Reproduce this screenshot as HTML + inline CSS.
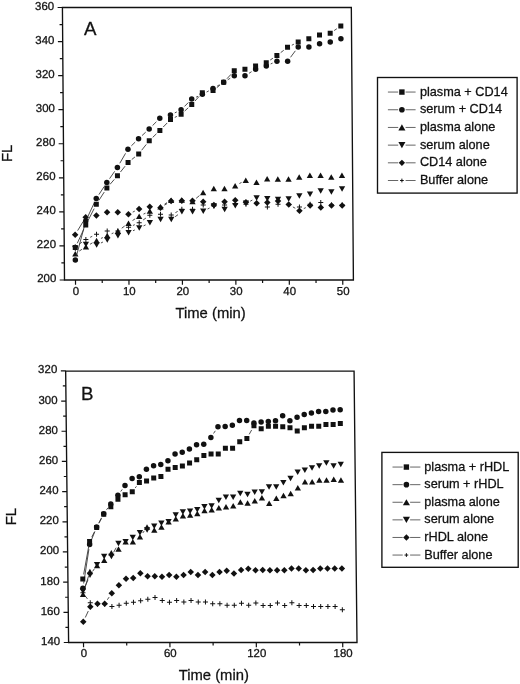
<!DOCTYPE html>
<html><head><meta charset="utf-8"><title>FL vs Time</title>
<style>
html,body{margin:0;padding:0;background:#fff;}
body{width:520px;height:684px;overflow:hidden;}
svg{display:block;font-family:"Liberation Sans",sans-serif;filter:blur(0.3px);}
text{stroke:#111;stroke-width:0.28px;}
</style></head>
<body>
<svg width="520" height="684" viewBox="0 0 520 684">
<rect width="520" height="684" fill="#fff"/>
<g transform="translate(0 280) skewX(0.4354) translate(0 -280)">
<path d="M64.5 7.5H353.4V280H64.5Z" fill="none" stroke="#111" stroke-width="1.35"/>
<path d="M59.7 279.98H64.5M59.7 245.92H64.5M59.7 211.86H64.5M59.7 177.8H64.5M59.7 143.74H64.5M59.7 109.68H64.5M59.7 75.62H64.5M59.7 41.56H64.5M59.7 7.5H64.5M61.5 262.95H64.5M61.5 228.89H64.5M61.5 194.83H64.5M61.5 160.77H64.5M61.5 126.71H64.5M61.5 92.65H64.5M61.5 58.59H64.5M61.5 24.53H64.5M75.5 280V284.7M128.95 280V284.7M182.4 280V284.7M235.85 280V284.7M289.3 280V284.7M342.75 280V284.7M102.22 280V283M155.68 280V283M209.12 280V283M262.57 280V283M316.02 280V283" stroke="#111" stroke-width="1.2" fill="none"/>
<g font-size="11.5" fill="#111" text-anchor="end">
<text x="56.3" y="282.48">200</text>
<text x="56.3" y="248.42">220</text>
<text x="56.3" y="214.36">240</text>
<text x="56.3" y="180.3">260</text>
<text x="56.3" y="146.24">280</text>
<text x="56.3" y="112.18">300</text>
<text x="56.3" y="78.12">320</text>
<text x="56.3" y="44.06">340</text>
<text x="56.3" y="10">360</text>
</g>
<g font-size="11.5" fill="#111" text-anchor="middle">
<text x="75.8" y="294.8">0</text>
<text x="129.25" y="294.8">10</text>
<text x="182.7" y="294.8">20</text>
<text x="236.15" y="294.8">30</text>
<text x="289.6" y="294.8">40</text>
<text x="343.05" y="294.8">50</text>
</g>
<path d="M79.46 244.06L82.23 242.16M90.49 237.32L92.58 236.29M133.36 225.46L135.23 224.66M143.57 220L146.4 218.02M175.93 212.64L178.18 211.42" fill="none" stroke="#3a3a3a" stroke-width="0.9"/>
<g fill="#111"><path d="M73 246.77H78M75.5 244.27V249.27" stroke="#111" stroke-width="1" fill="none"/><path d="M83.69 239.45H88.69M86.19 236.95V241.95" stroke="#111" stroke-width="1" fill="none"/><path d="M94.38 234.17H99.38M96.88 231.67V236.67" stroke="#111" stroke-width="1" fill="none"/><path d="M105.07 230.93H110.07M107.57 228.43V233.43" stroke="#111" stroke-width="1" fill="none"/><path d="M115.76 230.93H120.76M118.26 228.43V233.43" stroke="#111" stroke-width="1" fill="none"/><path d="M126.45 227.36H131.45M128.95 224.86V229.86" stroke="#111" stroke-width="1" fill="none"/><path d="M137.14 222.76H142.14M139.64 220.26V225.26" stroke="#111" stroke-width="1" fill="none"/><path d="M147.83 215.27H152.83M150.33 212.77V217.77" stroke="#111" stroke-width="1" fill="none"/><path d="M158.52 214.24H163.52M161.02 211.74V216.74" stroke="#111" stroke-width="1" fill="none"/><path d="M169.21 214.93H174.21M171.71 212.43V217.43" stroke="#111" stroke-width="1" fill="none"/><path d="M179.9 209.14H184.9M182.4 206.64V211.64" stroke="#111" stroke-width="1" fill="none"/><path d="M190.59 209.31H195.59M193.09 206.81V211.81" stroke="#111" stroke-width="1" fill="none"/><path d="M201.28 205.05H206.28M203.78 202.55V207.55" stroke="#111" stroke-width="1" fill="none"/><path d="M211.97 205.9H216.97M214.47 203.4V208.4" stroke="#111" stroke-width="1" fill="none"/><path d="M222.66 205.05H227.66M225.16 202.55V207.55" stroke="#111" stroke-width="1" fill="none"/><path d="M233.35 204.2H238.35M235.85 201.7V206.7" stroke="#111" stroke-width="1" fill="none"/><path d="M244.04 204.2H249.04M246.54 201.7V206.7" stroke="#111" stroke-width="1" fill="none"/><path d="M254.73 203.34H259.73M257.23 200.84V205.84" stroke="#111" stroke-width="1" fill="none"/><path d="M265.42 207.09H270.42M267.92 204.59V209.59" stroke="#111" stroke-width="1" fill="none"/><path d="M276.11 204.2H281.11M278.61 201.7V206.7" stroke="#111" stroke-width="1" fill="none"/><path d="M286.8 204.54H291.8M289.3 202.04V207.04" stroke="#111" stroke-width="1" fill="none"/><path d="M297.49 206.92H302.49M299.99 204.42V209.42" stroke="#111" stroke-width="1" fill="none"/><path d="M308.18 204.2H313.18M310.68 201.7V206.7" stroke="#111" stroke-width="1" fill="none"/><path d="M318.87 202.49H323.87M321.37 199.99V204.99" stroke="#111" stroke-width="1" fill="none"/><path d="M329.56 205.05H334.56M332.06 202.55V207.55" stroke="#111" stroke-width="1" fill="none"/><path d="M340.25 205.05H345.25M342.75 202.55V207.55" stroke="#111" stroke-width="1" fill="none"/></g>
<path d="M78.02 230.59L83.67 221.4M133.25 212.12L135.34 211.09M165.07 205.19L167.66 203.54M293.46 206.93L295.83 208.28M304.32 208.6L306.35 207.63" fill="none" stroke="#3a3a3a" stroke-width="0.9"/>
<g fill="#111"><path d="M75.5 231.43L78.75 234.68L75.5 237.93L72.25 234.68Z"/><path d="M86.19 214.06L89.44 217.31L86.19 220.56L82.94 217.31Z"/><path d="M96.88 212.36L100.13 215.61L96.88 218.86L93.63 215.61Z"/><path d="M107.57 209.12L110.82 212.37L107.57 215.62L104.32 212.37Z"/><path d="M118.26 209.12L121.51 212.37L118.26 215.62L115.01 212.37Z"/><path d="M128.95 210.99L132.2 214.24L128.95 217.49L125.7 214.24Z"/><path d="M139.64 205.71L142.89 208.96L139.64 212.21L136.39 208.96Z"/><path d="M150.33 203.5L153.58 206.75L150.33 210L147.08 206.75Z"/><path d="M161.02 204.52L164.27 207.77L161.02 211.02L157.77 207.77Z"/><path d="M171.71 197.71L174.96 200.96L171.71 204.21L168.46 200.96Z"/><path d="M182.4 197.54L185.65 200.79L182.4 204.04L179.15 200.79Z"/><path d="M193.09 197.54L196.34 200.79L193.09 204.04L189.84 200.79Z"/><path d="M203.78 198.56L207.03 201.81L203.78 205.06L200.53 201.81Z"/><path d="M214.47 201.8L217.72 205.05L214.47 208.3L211.22 205.05Z"/><path d="M225.16 198.56L228.41 201.81L225.16 205.06L221.91 201.81Z"/><path d="M235.85 197.03L239.1 200.28L235.85 203.53L232.6 200.28Z"/><path d="M246.54 199.07L249.79 202.32L246.54 205.57L243.29 202.32Z"/><path d="M257.23 200.09L260.48 203.34L257.23 206.59L253.98 203.34Z"/><path d="M267.92 199.24L271.17 202.49L267.92 205.74L264.67 202.49Z"/><path d="M278.61 197.71L281.86 200.96L278.61 204.21L275.36 200.96Z"/><path d="M289.3 201.29L292.55 204.54L289.3 207.79L286.05 204.54Z"/><path d="M299.99 207.42L303.24 210.67L299.99 213.92L296.74 210.67Z"/><path d="M310.68 202.31L313.93 205.56L310.68 208.81L307.43 205.56Z"/><path d="M321.37 204.35L324.62 207.6L321.37 210.85L318.12 207.6Z"/><path d="M332.06 202.31L335.31 205.56L332.06 208.81L328.81 205.56Z"/><path d="M342.75 202.31L346 205.56L342.75 208.81L339.5 205.56Z"/></g>
<path d="M101.21 243L103.24 242.03M133.36 230.74L135.23 229.94M143.94 225.91L146.03 224.88M175.61 216.73L178.5 214.66M208.08 209.05L210.17 208.02M250.82 201.16L252.95 200.08" fill="none" stroke="#3a3a3a" stroke-width="0.9"/>
<g fill="#111"><path d="M75.5 251.22L78.65 245.72L72.35 245.72Z"/><path d="M86.19 247.31L89.34 241.81L83.04 241.81Z"/><path d="M96.88 247.82L100.03 242.32L93.73 242.32Z"/><path d="M107.57 242.71L110.72 237.21L104.42 237.21Z"/><path d="M118.26 238.45L121.41 232.95L115.11 232.95Z"/><path d="M128.95 235.39L132.1 229.89L125.8 229.89Z"/><path d="M139.64 230.79L142.79 225.29L136.49 225.29Z"/><path d="M150.33 225.51L153.48 220.01L147.18 220.01Z"/><path d="M161.02 222.27L164.17 216.77L157.87 216.77Z"/><path d="M171.71 222.27L174.86 216.77L168.56 216.77Z"/><path d="M182.4 214.61L185.55 209.11L179.25 209.11Z"/><path d="M193.09 214.61L196.24 209.11L189.94 209.11Z"/><path d="M203.78 213.93L206.93 208.43L200.63 208.43Z"/><path d="M214.47 208.65L217.62 203.15L211.32 203.15Z"/><path d="M225.16 212.23L228.31 206.73L222.01 206.73Z"/><path d="M235.85 208.48L239 202.98L232.7 202.98Z"/><path d="M246.54 206.09L249.69 200.59L243.39 200.59Z"/><path d="M257.23 200.65L260.38 195.15L254.08 195.15Z"/><path d="M267.92 201.5L271.07 196L264.77 196Z"/><path d="M278.61 202.18L281.76 196.68L275.46 196.68Z"/><path d="M289.3 201.67L292.45 196.17L286.15 196.17Z"/><path d="M299.99 198.77L303.14 193.27L296.84 193.27Z"/><path d="M310.68 196.9L313.83 191.4L307.53 191.4Z"/><path d="M321.37 193.83L324.52 188.33L318.22 188.33Z"/><path d="M332.06 194.86L335.21 189.36L328.91 189.36Z"/><path d="M342.75 191.79L345.9 186.29L339.6 186.29Z"/></g>
<path d="M79.52 251.04L82.17 249.31M90.33 244.25L92.74 242.82M101.26 238.43L103.19 237.57M111.98 233.72L113.85 232.92M122.13 228.18L125.08 226.02M132.97 220.56L135.62 218.83M143.97 214.13L146 213.16M165.13 204.18L167.6 202.68M196.79 198.32L200.08 195.59M240.13 183.54L242.26 182.45" fill="none" stroke="#3a3a3a" stroke-width="0.9"/>
<g fill="#111"><path d="M75.5 250.92L78.65 256.42L72.35 256.42Z"/><path d="M86.19 243.94L89.34 249.44L83.04 249.44Z"/><path d="M96.88 237.64L100.03 243.14L93.73 243.14Z"/><path d="M107.57 232.87L110.72 238.37L104.42 238.37Z"/><path d="M118.26 228.27L121.41 233.77L115.11 233.77Z"/><path d="M128.95 220.43L132.1 225.93L125.8 225.93Z"/><path d="M139.64 213.45L142.79 218.95L136.49 218.95Z"/><path d="M150.33 208.34L153.48 213.84L147.18 213.84Z"/><path d="M161.02 203.92L164.17 209.42L157.87 209.42Z"/><path d="M171.71 197.44L174.86 202.94L168.56 202.94Z"/><path d="M182.4 197.27L185.55 202.77L179.25 202.77Z"/><path d="M193.09 198.64L196.24 204.14L189.94 204.14Z"/><path d="M203.78 189.78L206.93 195.28L200.63 195.28Z"/><path d="M214.47 185.86L217.62 191.36L211.32 191.36Z"/><path d="M225.16 185.86L228.31 191.36L222.01 191.36Z"/><path d="M235.85 182.97L239 188.47L232.7 188.47Z"/><path d="M246.54 177.52L249.69 183.02L243.39 183.02Z"/><path d="M257.23 179.56L260.38 185.06L254.08 185.06Z"/><path d="M267.92 175.99L271.07 181.49L264.77 181.49Z"/><path d="M278.61 176.33L281.76 181.83L275.46 181.83Z"/><path d="M289.3 176.33L292.45 181.83L286.15 181.83Z"/><path d="M299.99 174.28L303.14 179.78L296.84 179.78Z"/><path d="M310.68 172.41L313.83 177.91L307.53 177.91Z"/><path d="M321.37 172.41L324.52 177.91L318.22 177.91Z"/><path d="M332.06 174.28L335.21 179.78L328.91 179.78Z"/><path d="M342.75 172.41L345.9 177.91L339.6 177.91Z"/></g>
<path d="M76.77 255.43L84.92 225.69M88.25 216.72L94.82 202.91M99.55 194.58L104.9 186.56M110.34 178.65L115.49 171.33M120.69 163.27L126.52 153.33M132.39 145.84L136.2 142.15M143.17 135.54L146.8 132.18M153.75 125.55L157.6 121.74M176.04 112.89L178.07 111.92M185.79 106.45L189.7 102.52M197.47 97.17L199.4 96.31M208 92.07L210.25 90.85M218.61 86.13L221.02 84.7M229.27 79.78L231.74 78.28M250.62 73.26L253.15 71.68M272.3 63.96L274.23 63.1M292.2 57.32L297.09 50.84" fill="none" stroke="#3a3a3a" stroke-width="0.9"/>
<g fill="#111"><circle cx="75.5" cy="260.05" r="2.75"/><circle cx="86.19" cy="221.06" r="2.75"/><circle cx="96.88" cy="198.58" r="2.75"/><circle cx="107.57" cy="182.57" r="2.75"/><circle cx="118.26" cy="167.41" r="2.75"/><circle cx="128.95" cy="149.19" r="2.75"/><circle cx="139.64" cy="138.8" r="2.75"/><circle cx="150.33" cy="128.92" r="2.75"/><circle cx="161.02" cy="118.37" r="2.75"/><circle cx="171.71" cy="114.96" r="2.75"/><circle cx="182.4" cy="109.85" r="2.75"/><circle cx="193.09" cy="99.12" r="2.75"/><circle cx="203.78" cy="94.35" r="2.75"/><circle cx="214.47" cy="88.56" r="2.75"/><circle cx="225.16" cy="82.26" r="2.75"/><circle cx="235.85" cy="75.79" r="2.75"/><circle cx="246.54" cy="75.79" r="2.75"/><circle cx="257.23" cy="69.15" r="2.75"/><circle cx="267.92" cy="65.91" r="2.75"/><circle cx="278.61" cy="61.14" r="2.75"/><circle cx="289.3" cy="61.14" r="2.75"/><circle cx="299.99" cy="47.01" r="2.75"/><circle cx="310.68" cy="47.01" r="2.75"/><circle cx="321.37" cy="43.77" r="2.75"/><circle cx="332.06" cy="42.07" r="2.75"/><circle cx="342.75" cy="38.84" r="2.75"/></g>
<path d="M77.55 243.28L84.14 229.31M88.4 220.71L94.67 208.63M99.51 200.35L104.94 192.04M110.72 184.4L115.11 179.37M121.27 172.02L125.94 166.21M132.7 159.48L135.89 156.95M142.65 150.22L147.32 144.41M153.8 137.36L157.55 133.77M164.38 127.03L168.35 122.98M176.01 117.43L178.1 116.4M185.95 111.05L189.54 107.8M196.32 101.02L200.55 96.37M218.25 87.65L221.38 85.22M228.44 78.76L232.57 74.35M271.91 60.01L274.62 58.19M282.42 52.61L285.49 50.27M293.6 45.22L295.69 44.2M336.05 30.55L338.76 28.73" fill="none" stroke="#3a3a3a" stroke-width="0.9"/>
<g fill="#111"><rect x="73" y="245.12" width="5" height="5"/><rect x="83.69" y="222.47" width="5" height="5"/><rect x="94.38" y="201.87" width="5" height="5"/><rect x="105.07" y="185.52" width="5" height="5"/><rect x="115.76" y="173.26" width="5" height="5"/><rect x="126.45" y="159.97" width="5" height="5"/><rect x="137.14" y="151.46" width="5" height="5"/><rect x="147.83" y="138.17" width="5" height="5"/><rect x="158.52" y="127.96" width="5" height="5"/><rect x="169.21" y="117.06" width="5" height="5"/><rect x="179.9" y="111.78" width="5" height="5"/><rect x="190.59" y="102.07" width="5" height="5"/><rect x="201.28" y="90.32" width="5" height="5"/><rect x="211.97" y="88.11" width="5" height="5"/><rect x="222.66" y="79.76" width="5" height="5"/><rect x="233.35" y="68.35" width="5" height="5"/><rect x="244.04" y="66.65" width="5" height="5"/><rect x="254.73" y="63.41" width="5" height="5"/><rect x="265.42" y="60.18" width="5" height="5"/><rect x="276.11" y="53.02" width="5" height="5"/><rect x="286.8" y="44.85" width="5" height="5"/><rect x="297.49" y="39.57" width="5" height="5"/><rect x="308.18" y="36.34" width="5" height="5"/><rect x="318.87" y="32.59" width="5" height="5"/><rect x="329.56" y="30.72" width="5" height="5"/><rect x="340.25" y="23.56" width="5" height="5"/></g>
</g>
<text x="84.1" y="35.3" font-size="18.7" fill="#111">A</text>
<text x="210.6" y="318" font-size="14.8" fill="#111" text-anchor="middle">Time (min)</text>
<text transform="translate(11.9 153.3) rotate(-90)" font-size="15" fill="#111" text-anchor="middle">FL</text>
<rect x="377.5" y="77.5" width="139.6" height="115.6" fill="none" stroke="#111" stroke-width="1.35"/>
<path d="M387.9 92.06H398.2M405.6 92.06H415.6" stroke="#666" stroke-width="1"/>
<g fill="#111"><rect x="399.2" y="89.36" width="5.4" height="5.4"/></g>
<text x="419.9" y="95.66" font-size="12.7" fill="#111">plasma + CD14</text>
<path d="M387.9 109.75H398.2M405.6 109.75H415.6" stroke="#666" stroke-width="1"/>
<g fill="#111"><circle cx="401.9" cy="109.75" r="2.83"/></g>
<text x="419.9" y="113.35" font-size="12.7" fill="#111">serum + CD14</text>
<path d="M387.9 127.44H398.2M405.6 127.44H415.6" stroke="#666" stroke-width="1"/>
<g fill="#111"><path d="M401.9 124.36L405.43 130.52L398.37 130.52Z"/></g>
<text x="419.9" y="131.04" font-size="12.7" fill="#111">plasma alone</text>
<path d="M387.9 145.13H398.2M405.6 145.13H415.6" stroke="#666" stroke-width="1"/>
<g fill="#111"><path d="M401.9 148.21L405.43 142.05L398.37 142.05Z"/></g>
<text x="419.9" y="148.73" font-size="12.7" fill="#111">serum alone</text>
<path d="M387.9 162.82H398.2M405.6 162.82H415.6" stroke="#666" stroke-width="1"/>
<g fill="#111"><path d="M401.9 159.63L405.08 162.82L401.9 166L398.71 162.82Z"/></g>
<text x="419.9" y="166.42" font-size="12.7" fill="#111">CD14 alone</text>
<path d="M387.9 180.51H398.2M405.6 180.51H415.6" stroke="#666" stroke-width="1"/>
<g fill="#111"><path d="M400.02 180.51H403.77M401.9 178.63V182.38" stroke="#111" stroke-width="1" fill="none"/></g>
<text x="419.9" y="184.11" font-size="12.7" fill="#111">Buffer alone</text>
<g transform="translate(0 642.5) skewX(0.6188) translate(0 -642.5)">
<path d="M68.6 371.1H357V642.5H68.6Z" fill="none" stroke="#111" stroke-width="1.35"/>
<path d="M63.8 642.5H68.6M63.8 612.32H68.6M63.8 582.14H68.6M63.8 551.96H68.6M63.8 521.78H68.6M63.8 491.6H68.6M63.8 461.42H68.6M63.8 431.24H68.6M63.8 401.06H68.6M63.8 370.88H68.6M65.6 627.41H68.6M65.6 597.23H68.6M65.6 567.05H68.6M65.6 536.87H68.6M65.6 506.69H68.6M65.6 476.51H68.6M65.6 446.33H68.6M65.6 416.15H68.6M65.6 385.97H68.6M83.5 642.5V647.2M169.9 642.5V647.2M256.3 642.5V647.2M342.7 642.5V647.2M126.7 642.5V645.5M213.1 642.5V645.5M299.5 642.5V645.5" stroke="#111" stroke-width="1.2" fill="none"/>
<g font-size="11.5" fill="#111" text-anchor="end">
<text x="60.2" y="645">140</text>
<text x="60.2" y="614.82">160</text>
<text x="60.2" y="584.64">180</text>
<text x="60.2" y="554.46">200</text>
<text x="60.2" y="524.28">220</text>
<text x="60.2" y="494.1">240</text>
<text x="60.2" y="463.92">260</text>
<text x="60.2" y="433.74">280</text>
<text x="60.2" y="403.56">300</text>
<text x="60.2" y="373.38">320</text>
</g>
<g font-size="11.5" fill="#111" text-anchor="middle">
<text x="83.8" y="657">0</text>
<text x="170.2" y="657">60</text>
<text x="256.6" y="657">120</text>
<text x="343" y="657">180</text>
</g>
<path d="M86.28 596.61L87.92 598.9" fill="none" stroke="#3a3a3a" stroke-width="0.9"/>
<g fill="#111"><path d="M81 592.7H86M83.5 590.2V595.2" stroke="#111" stroke-width="1" fill="none"/><path d="M88.2 602.81H93.2M90.7 600.31V605.31" stroke="#111" stroke-width="1" fill="none"/><path d="M95.4 604.02H100.4M97.9 601.52V606.52" stroke="#111" stroke-width="1" fill="none"/><path d="M102.6 604.02H107.6M105.1 601.52V606.52" stroke="#111" stroke-width="1" fill="none"/><path d="M109.8 606.59H114.8M112.3 604.09V609.09" stroke="#111" stroke-width="1" fill="none"/><path d="M117 605.23H122M119.5 602.73V607.73" stroke="#111" stroke-width="1" fill="none"/><path d="M124.2 603.27H129.2M126.7 600.77V605.77" stroke="#111" stroke-width="1" fill="none"/><path d="M131.4 602.36H136.4M133.9 599.86V604.86" stroke="#111" stroke-width="1" fill="none"/><path d="M138.6 600.85H143.6M141.1 598.35V603.35" stroke="#111" stroke-width="1" fill="none"/><path d="M145.8 599.34H150.8M148.3 596.84V601.84" stroke="#111" stroke-width="1" fill="none"/><path d="M153 597.53H158M155.5 595.03V600.03" stroke="#111" stroke-width="1" fill="none"/><path d="M160.2 600.4H165.2M162.7 597.9V602.9" stroke="#111" stroke-width="1" fill="none"/><path d="M167.4 602.36H172.4M169.9 599.86V604.86" stroke="#111" stroke-width="1" fill="none"/><path d="M174.6 600.4H179.6M177.1 597.9V602.9" stroke="#111" stroke-width="1" fill="none"/><path d="M181.8 601.91H186.8M184.3 599.41V604.41" stroke="#111" stroke-width="1" fill="none"/><path d="M189 600.4H194M191.5 597.9V602.9" stroke="#111" stroke-width="1" fill="none"/><path d="M196.2 601.91H201.2M198.7 599.41V604.41" stroke="#111" stroke-width="1" fill="none"/><path d="M203.4 601.91H208.4M205.9 599.41V604.41" stroke="#111" stroke-width="1" fill="none"/><path d="M210.6 603.87H215.6M213.1 601.37V606.37" stroke="#111" stroke-width="1" fill="none"/><path d="M217.8 603.87H222.8M220.3 601.37V606.37" stroke="#111" stroke-width="1" fill="none"/><path d="M225 605.23H230M227.5 602.73V607.73" stroke="#111" stroke-width="1" fill="none"/><path d="M232.2 605.23H237.2M234.7 602.73V607.73" stroke="#111" stroke-width="1" fill="none"/><path d="M239.4 603.27H244.4M241.9 600.77V605.77" stroke="#111" stroke-width="1" fill="none"/><path d="M246.6 605.23H251.6M249.1 602.73V607.73" stroke="#111" stroke-width="1" fill="none"/><path d="M253.8 603.12H258.8M256.3 600.62V605.62" stroke="#111" stroke-width="1" fill="none"/><path d="M261 605.38H266M263.5 602.88V607.88" stroke="#111" stroke-width="1" fill="none"/><path d="M268.2 605.38H273.2M270.7 602.88V607.88" stroke="#111" stroke-width="1" fill="none"/><path d="M275.4 603.12H280.4M277.9 600.62V605.62" stroke="#111" stroke-width="1" fill="none"/><path d="M282.6 605.38H287.6M285.1 602.88V607.88" stroke="#111" stroke-width="1" fill="none"/><path d="M289.8 602.66H294.8M292.3 600.16V605.16" stroke="#111" stroke-width="1" fill="none"/><path d="M297 605.38H302M299.5 602.88V607.88" stroke="#111" stroke-width="1" fill="none"/><path d="M304.2 605.38H309.2M306.7 602.88V607.88" stroke="#111" stroke-width="1" fill="none"/><path d="M311.4 606.43H316.4M313.9 603.93V608.93" stroke="#111" stroke-width="1" fill="none"/><path d="M318.6 606.43H323.6M321.1 603.93V608.93" stroke="#111" stroke-width="1" fill="none"/><path d="M325.8 606.43H330.8M328.3 603.93V608.93" stroke="#111" stroke-width="1" fill="none"/><path d="M333 606.43H338M335.5 603.93V608.93" stroke="#111" stroke-width="1" fill="none"/><path d="M340.2 609.75H345.2M342.7 607.25V612.25" stroke="#111" stroke-width="1" fill="none"/></g>
<path d="M85.57 617.49L88.63 611.07M107.8 599.75L109.6 597.12" fill="none" stroke="#3a3a3a" stroke-width="0.9"/>
<g fill="#111"><path d="M83.5 618.58L86.75 621.83L83.5 625.08L80.25 621.83Z"/><path d="M90.7 603.49L93.95 606.74L90.7 609.99L87.45 606.74Z"/><path d="M97.9 600.47L101.15 603.72L97.9 606.97L94.65 603.72Z"/><path d="M105.1 600.47L108.35 603.72L105.1 606.97L101.85 603.72Z"/><path d="M112.3 589.91L115.55 593.16L112.3 596.41L109.05 593.16Z"/><path d="M119.5 582.06L122.75 585.31L119.5 588.56L116.25 585.31Z"/><path d="M126.7 575.57L129.95 578.82L126.7 582.07L123.45 578.82Z"/><path d="M133.9 574.82L137.15 578.07L133.9 581.32L130.65 578.07Z"/><path d="M141.1 569.99L144.35 573.24L141.1 576.49L137.85 573.24Z"/><path d="M148.3 573L151.55 576.25L148.3 579.5L145.05 576.25Z"/><path d="M155.5 573L158.75 576.25L155.5 579.5L152.25 576.25Z"/><path d="M162.7 573.61L165.95 576.86L162.7 580.11L159.45 576.86Z"/><path d="M169.9 571.8L173.15 575.05L169.9 578.3L166.65 575.05Z"/><path d="M177.1 573.61L180.35 576.86L177.1 580.11L173.85 576.86Z"/><path d="M184.3 571.8L187.55 575.05L184.3 578.3L181.05 575.05Z"/><path d="M191.5 568.63L194.75 571.88L191.5 575.13L188.25 571.88Z"/><path d="M198.7 571.8L201.95 575.05L198.7 578.3L195.45 575.05Z"/><path d="M205.9 568.63L209.15 571.88L205.9 575.13L202.65 571.88Z"/><path d="M213.1 571.8L216.35 575.05L213.1 578.3L209.85 575.05Z"/><path d="M220.3 568.63L223.55 571.88L220.3 575.13L217.05 571.88Z"/><path d="M227.5 567.42L230.75 570.67L227.5 573.92L224.25 570.67Z"/><path d="M234.7 570.29L237.95 573.54L234.7 576.79L231.45 573.54Z"/><path d="M241.9 566.82L245.15 570.07L241.9 573.32L238.65 570.07Z"/><path d="M249.1 565.46L252.35 568.71L249.1 571.96L245.85 568.71Z"/><path d="M256.3 567.12L259.55 570.37L256.3 573.62L253.05 570.37Z"/><path d="M263.5 566.82L266.75 570.07L263.5 573.32L260.25 570.07Z"/><path d="M270.7 567.12L273.95 570.37L270.7 573.62L267.45 570.37Z"/><path d="M277.9 567.12L281.15 570.37L277.9 573.62L274.65 570.37Z"/><path d="M285.1 567.12L288.35 570.37L285.1 573.62L281.85 570.37Z"/><path d="M292.3 565.31L295.55 568.56L292.3 571.81L289.05 568.56Z"/><path d="M299.5 565.31L302.75 568.56L299.5 571.81L296.25 568.56Z"/><path d="M306.7 567.12L309.95 570.37L306.7 573.62L303.45 570.37Z"/><path d="M313.9 566.82L317.15 570.07L313.9 573.32L310.65 570.07Z"/><path d="M321.1 565.31L324.35 568.56L321.1 571.81L317.85 568.56Z"/><path d="M328.3 565.31L331.55 568.56L328.3 571.81L325.05 568.56Z"/><path d="M335.5 565.31L338.75 568.56L335.5 571.81L332.25 568.56Z"/><path d="M342.7 565.31L345.95 568.56L342.7 571.81L339.45 568.56Z"/></g>
<path d="M84.96 589.64L89.24 576.15M143.94 533L145.46 530.93" fill="none" stroke="#3a3a3a" stroke-width="0.9"/>
<g fill="#111"><path d="M83.5 591.46L86.65 596.96L80.35 596.96Z"/><path d="M90.7 568.83L93.85 574.33L87.55 574.33Z"/><path d="M97.9 562.79L101.05 568.29L94.75 568.29Z"/><path d="M105.1 557.51L108.25 563.01L101.95 563.01Z"/><path d="M112.3 549.96L115.45 555.46L109.15 555.46Z"/><path d="M119.5 546.19L122.65 551.69L116.35 551.69Z"/><path d="M126.7 539.1L129.85 544.6L123.55 544.6Z"/><path d="M133.9 538.95L137.05 544.45L130.75 544.45Z"/><path d="M141.1 534.12L144.25 539.62L137.95 539.62Z"/><path d="M148.3 524.31L151.45 529.81L145.15 529.81Z"/><path d="M155.5 527.33L158.65 532.83L152.35 532.83Z"/><path d="M162.7 524.31L165.85 529.81L159.55 529.81Z"/><path d="M169.9 519.03L173.05 524.53L166.75 524.53Z"/><path d="M177.1 516.01L180.25 521.51L173.95 521.51Z"/><path d="M184.3 512.99L187.45 518.49L181.15 518.49Z"/><path d="M191.5 512.24L194.65 517.74L188.35 517.74Z"/><path d="M198.7 510.73L201.85 516.23L195.55 516.23Z"/><path d="M205.9 507.71L209.05 513.21L202.75 513.21Z"/><path d="M213.1 506.96L216.25 512.46L209.95 512.46Z"/><path d="M220.3 505L223.45 510.5L217.15 510.5Z"/><path d="M227.5 504.09L230.65 509.59L224.35 509.59Z"/><path d="M234.7 502.88L237.85 508.38L231.55 508.38Z"/><path d="M241.9 499.26L245.05 504.76L238.75 504.76Z"/><path d="M249.1 500.17L252.25 505.67L245.95 505.67Z"/><path d="M256.3 498.05L259.45 503.55L253.15 503.55Z"/><path d="M263.5 494.89L266.65 500.39L260.35 500.39Z"/><path d="M270.7 500.62L273.85 506.12L267.55 506.12Z"/><path d="M277.9 495.49L281.05 500.99L274.75 500.99Z"/><path d="M285.1 492.77L288.25 498.27L281.95 498.27Z"/><path d="M292.3 490.66L295.45 496.16L289.15 496.16Z"/><path d="M299.5 484.93L302.65 490.43L296.35 490.43Z"/><path d="M306.7 478.89L309.85 484.39L303.55 484.39Z"/><path d="M313.9 478.89L317.05 484.39L310.75 484.39Z"/><path d="M321.1 477.23L324.25 482.73L317.95 482.73Z"/><path d="M328.3 477.23L331.45 482.73L325.15 482.73Z"/><path d="M335.5 476.48L338.65 481.98L332.35 481.98Z"/><path d="M342.7 477.23L345.85 482.73L339.55 482.73Z"/></g>
<path d="M85.49 586.82L88.71 579.72M93.4 571.38L95.2 568.75M114.63 552.29L117.17 547.71" fill="none" stroke="#3a3a3a" stroke-width="0.9"/>
<g fill="#111"><path d="M83.5 593.94L86.65 588.44L80.35 588.44Z"/><path d="M90.7 578.1L93.85 572.6L87.55 572.6Z"/><path d="M97.9 567.54L101.05 562.04L94.75 562.04Z"/><path d="M105.1 559.24L108.25 553.74L101.95 553.74Z"/><path d="M112.3 559.24L115.45 553.74L109.15 553.74Z"/><path d="M119.5 546.26L122.65 540.76L116.35 540.76Z"/><path d="M126.7 544.6L129.85 539.1L123.55 539.1Z"/><path d="M133.9 540.37L137.05 534.87L130.75 534.87Z"/><path d="M141.1 535.39L144.25 529.89L137.95 529.89Z"/><path d="M148.3 532.83L151.45 527.33L145.15 527.33Z"/><path d="M155.5 529.06L158.65 523.56L152.35 523.56Z"/><path d="M162.7 526.04L165.85 520.54L159.55 520.54Z"/><path d="M169.9 524.53L173.05 519.03L166.75 519.03Z"/><path d="M177.1 517.74L180.25 512.24L173.95 512.24Z"/><path d="M184.3 514.72L187.45 509.22L181.15 509.22Z"/><path d="M191.5 513.97L194.65 508.47L188.35 508.47Z"/><path d="M198.7 512.46L201.85 506.96L195.55 506.96Z"/><path d="M205.9 509.44L209.05 503.94L202.75 503.94Z"/><path d="M213.1 508.69L216.25 503.19L209.95 503.19Z"/><path d="M220.3 503.25L223.45 497.75L217.15 497.75Z"/><path d="M227.5 499.93L230.65 494.43L224.35 494.43Z"/><path d="M234.7 499.93L237.85 494.43L231.55 494.43Z"/><path d="M241.9 496.31L245.05 490.81L238.75 490.81Z"/><path d="M249.1 497.22L252.25 491.72L245.95 491.72Z"/><path d="M256.3 495.1L259.45 489.6L253.15 489.6Z"/><path d="M263.5 494.65L266.65 489.15L260.35 489.15Z"/><path d="M270.7 489.82L273.85 484.32L267.55 484.32Z"/><path d="M277.9 489.82L281.05 484.32L274.75 484.32Z"/><path d="M285.1 485.6L288.25 480.1L281.95 480.1Z"/><path d="M292.3 481.37L295.45 475.87L289.15 475.87Z"/><path d="M299.5 474.88L302.65 469.38L296.35 469.38Z"/><path d="M306.7 472.92L309.85 467.42L303.55 467.42Z"/><path d="M313.9 470.81L317.05 465.31L310.75 465.31Z"/><path d="M321.1 468.7L324.25 463.2L317.95 463.2Z"/><path d="M328.3 465.83L331.45 460.33L325.15 460.33Z"/><path d="M335.5 468.7L338.65 463.2L332.35 463.2Z"/><path d="M342.7 467.19L345.85 461.69L339.55 461.69Z"/></g>
<path d="M84.28 583.44L89.92 549.15M92.54 539.98L96.06 531.5M100.17 522.83L102.83 517.86M107.97 509.78L109.43 507.82M122.34 491.5L123.86 489.43M215.8 433.46L217.6 430.83" fill="none" stroke="#3a3a3a" stroke-width="0.9"/>
<g fill="#111"><circle cx="83.5" cy="588.18" r="2.75"/><circle cx="90.7" cy="544.41" r="2.75"/><circle cx="97.9" cy="527.06" r="2.75"/><circle cx="105.1" cy="513.63" r="2.75"/><circle cx="112.3" cy="503.97" r="2.75"/><circle cx="119.5" cy="495.37" r="2.75"/><circle cx="126.7" cy="485.56" r="2.75"/><circle cx="133.9" cy="478.47" r="2.75"/><circle cx="141.1" cy="476.81" r="2.75"/><circle cx="148.3" cy="469.27" r="2.75"/><circle cx="155.5" cy="465.65" r="2.75"/><circle cx="162.7" cy="464.59" r="2.75"/><circle cx="169.9" cy="460.82" r="2.75"/><circle cx="177.1" cy="453.88" r="2.75"/><circle cx="184.3" cy="452.22" r="2.75"/><circle cx="191.5" cy="449.05" r="2.75"/><circle cx="198.7" cy="444.82" r="2.75"/><circle cx="205.9" cy="444.22" r="2.75"/><circle cx="213.1" cy="437.43" r="2.75"/><circle cx="220.3" cy="426.86" r="2.75"/><circle cx="227.5" cy="426.41" r="2.75"/><circle cx="234.7" cy="425.2" r="2.75"/><circle cx="241.9" cy="420.53" r="2.75"/><circle cx="249.1" cy="420.38" r="2.75"/><circle cx="256.3" cy="422.94" r="2.75"/><circle cx="263.5" cy="422.04" r="2.75"/><circle cx="270.7" cy="421.43" r="2.75"/><circle cx="277.9" cy="420.83" r="2.75"/><circle cx="285.1" cy="415.7" r="2.75"/><circle cx="292.3" cy="420.83" r="2.75"/><circle cx="299.5" cy="417.21" r="2.75"/><circle cx="306.7" cy="414.49" r="2.75"/><circle cx="313.9" cy="412.98" r="2.75"/><circle cx="321.1" cy="411.47" r="2.75"/><circle cx="328.3" cy="411.47" r="2.75"/><circle cx="335.5" cy="410.11" r="2.75"/><circle cx="342.7" cy="409.81" r="2.75"/></g>
<path d="M84.4 574.41L89.8 546.11M92.91 537.14L95.69 531.78M100.19 523.29L102.81 518.45M136.86 487.97L138.14 486.33M251.47 434.31L253.93 429.98" fill="none" stroke="#3a3a3a" stroke-width="0.9"/>
<g fill="#111"><rect x="81" y="576.62" width="5" height="5"/><rect x="88.2" y="538.9" width="5" height="5"/><rect x="95.4" y="525.01" width="5" height="5"/><rect x="102.6" y="511.74" width="5" height="5"/><rect x="109.8" y="504.19" width="5" height="5"/><rect x="117" y="496.8" width="5" height="5"/><rect x="124.2" y="492.27" width="5" height="5"/><rect x="131.4" y="489.25" width="5" height="5"/><rect x="138.6" y="480.05" width="5" height="5"/><rect x="145.8" y="478.54" width="5" height="5"/><rect x="153" y="475.52" width="5" height="5"/><rect x="160.2" y="474.01" width="5" height="5"/><rect x="167.4" y="466.77" width="5" height="5"/><rect x="174.6" y="464.96" width="5" height="5"/><rect x="181.8" y="463.6" width="5" height="5"/><rect x="189" y="460.43" width="5" height="5"/><rect x="196.2" y="457.26" width="5" height="5"/><rect x="203.4" y="453.03" width="5" height="5"/><rect x="210.6" y="451.53" width="5" height="5"/><rect x="217.8" y="451.53" width="5" height="5"/><rect x="225" y="445.64" width="5" height="5"/><rect x="232.2" y="445.64" width="5" height="5"/><rect x="239.4" y="439.15" width="5" height="5"/><rect x="246.6" y="435.98" width="5" height="5"/><rect x="253.8" y="423.31" width="5" height="5"/><rect x="261" y="426.33" width="5" height="5"/><rect x="268.2" y="423.76" width="5" height="5"/><rect x="275.4" y="423.76" width="5" height="5"/><rect x="282.6" y="424.21" width="5" height="5"/><rect x="289.8" y="425.27" width="5" height="5"/><rect x="297" y="428.44" width="5" height="5"/><rect x="304.2" y="425.27" width="5" height="5"/><rect x="311.4" y="423.76" width="5" height="5"/><rect x="318.6" y="423.76" width="5" height="5"/><rect x="325.8" y="422.1" width="5" height="5"/><rect x="333" y="422.1" width="5" height="5"/><rect x="340.2" y="421.04" width="5" height="5"/></g>
</g>
<text x="81" y="399.9" font-size="18.7" fill="#111">B</text>
<text x="213.8" y="679.9" font-size="14.8" fill="#111" text-anchor="middle">Time (min)</text>
<text transform="translate(15.8 516.6) rotate(-90)" font-size="15" fill="#111" text-anchor="middle">FL</text>
<rect x="381.9" y="452.4" width="136.3" height="114.9" fill="none" stroke="#111" stroke-width="1.35"/>
<path d="M392.5 467.06H402.7M410.1 467.06H420.4" stroke="#666" stroke-width="1"/>
<g fill="#111"><rect x="403.7" y="464.36" width="5.4" height="5.4"/></g>
<text x="424.3" y="470.66" font-size="12.7" fill="#111">plasma + rHDL</text>
<path d="M392.5 484.66H402.7M410.1 484.66H420.4" stroke="#666" stroke-width="1"/>
<g fill="#111"><circle cx="406.4" cy="484.66" r="2.83"/></g>
<text x="424.3" y="488.26" font-size="12.7" fill="#111">serum + rHDL</text>
<path d="M392.5 502.26H402.7M410.1 502.26H420.4" stroke="#666" stroke-width="1"/>
<g fill="#111"><path d="M406.4 499.18L409.93 505.34L402.87 505.34Z"/></g>
<text x="424.3" y="505.86" font-size="12.7" fill="#111">plasma alone</text>
<path d="M392.5 519.86H402.7M410.1 519.86H420.4" stroke="#666" stroke-width="1"/>
<g fill="#111"><path d="M406.4 522.94L409.93 516.78L402.87 516.78Z"/></g>
<text x="424.3" y="523.46" font-size="12.7" fill="#111">serum alone</text>
<path d="M392.5 537.46H402.7M410.1 537.46H420.4" stroke="#666" stroke-width="1"/>
<g fill="#111"><path d="M406.4 534.28L409.58 537.46L406.4 540.64L403.21 537.46Z"/></g>
<text x="424.3" y="541.06" font-size="12.7" fill="#111">rHDL alone</text>
<path d="M392.5 555.06H402.7M410.1 555.06H420.4" stroke="#666" stroke-width="1"/>
<g fill="#111"><path d="M404.52 555.06H408.27M406.4 553.18V556.93" stroke="#111" stroke-width="1" fill="none"/></g>
<text x="424.3" y="558.66" font-size="12.7" fill="#111">Buffer alone</text>
</svg>
</body></html>
